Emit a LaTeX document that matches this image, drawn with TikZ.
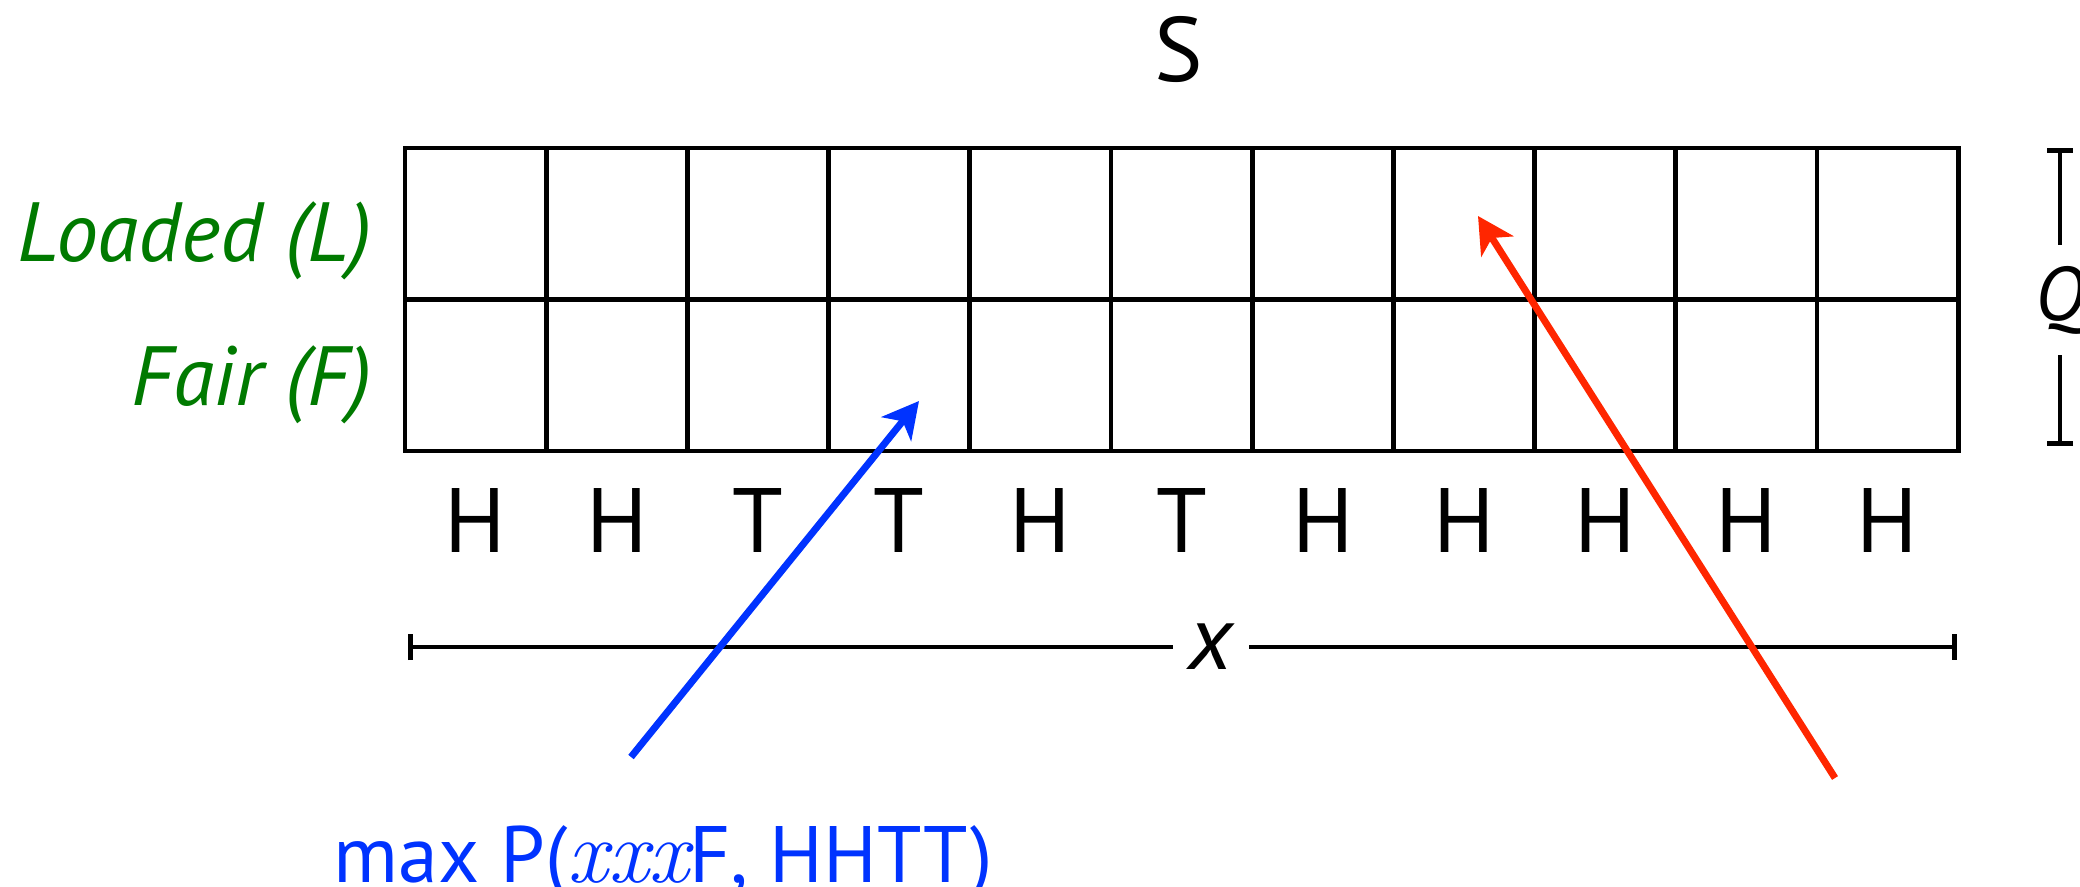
\documentclass[tikz,border=0pt]{standalone}
\usepackage{fontspec}
\setsansfont{PT Sans}
\usetikzlibrary{arrows.meta}
\definecolor{lgreen}{RGB}{0,122,0}
\definecolor{pblue}{RGB}{0,51,255}
\definecolor{pred}{RGB}{255,38,0}
\tikzset{
  cell/.style={draw=black, line width=2.4pt, minimum width=70.6pt, minimum height=75.75pt, inner sep=0pt, outer sep=0pt},
  obs/.style={font=\sffamily\fontsize{45.7}{50}\selectfont, anchor=base, inner sep=0pt},
  statelbl/.style={text=lgreen, font=\sffamily\itshape\fontsize{42}{50}\selectfont, anchor=base east, inner sep=0pt},
  ptr/.style={line width=3.5pt, -{Stealth[length=18pt,width=19pt,inset=5pt]}},
  dimline/.style={line width=2.4pt},
}
\begin{document}
\begin{tikzpicture}[x=0.5pt,y=-0.5pt]
\useasboundingbox (0,0) rectangle (2080,887);
% title
\node[font=\sffamily\fontsize{45.7}{50}\selectfont, inner sep=0pt] (S) at (1179,50) {S};
% grid cells
\foreach \i in {1,...,11} {
  \pgfmathsetmacro\cx{405+141.2*(\i-0.5)}
  \node[cell] (L\i) at (\cx,223.75) {};
  \node[cell] (F\i) at (\cx,375.25) {};
}
% observations
\foreach \i/\t in {1/H,2/H,3/T,4/T,5/H,6/T,7/H,8/H,9/H,10/H,11/H} {
  \path (F\i.south) ++(0,101) node[obs] (o\i) {\t};
}
% state labels
\node[statelbl] (lblL) at (372,262) {Loaded (L)};
\node[statelbl] (lblF) at (372,405) {Fair (F)};
% x dimension
\coordinate (xa) at (408,647);
\coordinate (xb) at (1957,647);
\node[font=\sffamily\itshape\fontsize{45.7}{50}\selectfont, inner sep=0pt, minimum width=38pt] (xlab) at (1211,647) {x};
\draw[dimline, {Bar[width=13pt]}-] (xa) -- (xlab.west);
\draw[dimline, -{Bar[width=13pt]}] (xlab.east) -- (xb);
% Q dimension
\coordinate (qa) at (2060,148);
\coordinate (qb) at (2060,446);
\node[font=\sffamily\itshape\fontsize{38}{44}\selectfont, inner sep=0pt, minimum height=55pt] (Q) at (2060,300) {Q};
\draw[dimline, {Bar[width=13pt]}-] (qa) -- (Q.north);
\draw[dimline, -{Bar[width=13pt]}] (Q.south) -- (qb);
% arrows
\coordinate (bt) at (631,757);
\coordinate (bh) at (919,401);
\draw[ptr, pblue] (bt) -- (bh);
\coordinate (rt) at (1835,778);
\coordinate (rh) at (1478,216);
\draw[ptr, pred] (rt) -- (rh);
% bottom label
\node[anchor=base west, inner sep=0pt, text=pblue, font=\sffamily\fontsize{40}{48}\selectfont] (maxp) at (333,882) {max P({\rmfamily\itshape\fontsize{45}{48}\selectfont xxx}F, HHTT)};
\end{tikzpicture}
\end{document}
